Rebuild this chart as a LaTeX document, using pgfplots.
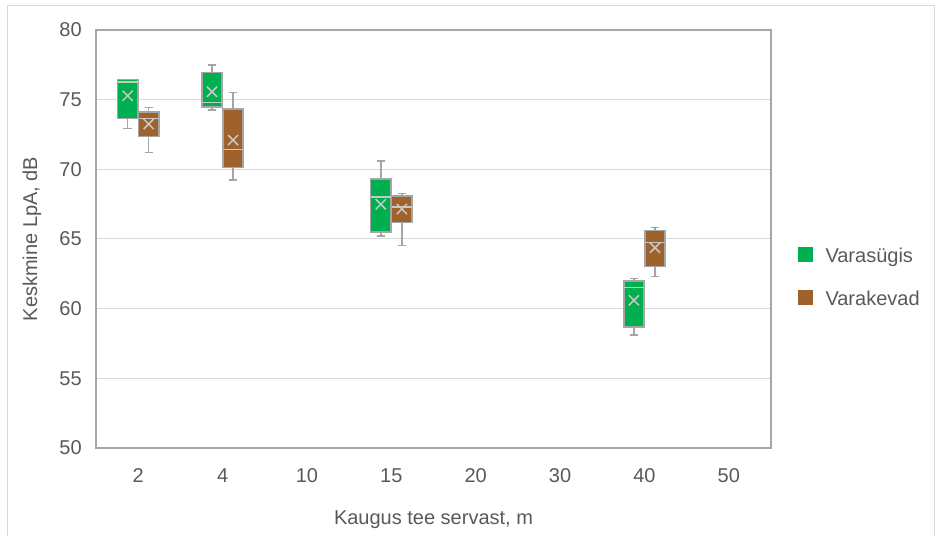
\documentclass[border=0pt]{standalone}
\usepackage{fontspec}
\setmainfont{Liberation Sans}
\usepackage{pgfplots}
\pgfplotsset{compat=1.18}
\usepgfplotslibrary{statistics}
\definecolor{vgreen}{HTML}{00B050}
\definecolor{vbrown}{HTML}{A0622D}
\definecolor{textgray}{HTML}{595959}
\definecolor{framegray}{HTML}{A6A6A6}
\definecolor{gridgray}{HTML}{D9D9D9}
\definecolor{boxgray}{HTML}{A5A5A5}
\definecolor{meangray}{HTML}{C8C8C8}
\pgfplotsset{
  gbox/.style={fill=vgreen, draw=boxgray, line width=0.9pt, solid, mark=none},
  bbox/.style={fill=vbrown, draw=boxgray, line width=0.9pt, solid, mark=none},
}
\begin{document}
\fontsize{12pt}{14pt}\selectfont
\begin{tikzpicture}
\path[use as bounding box] (0,0) rectangle (561.6pt,321.6pt);
\draw[gridgray, line width=0.6pt] (4.2pt,0) -- (4.2pt,318pt) -- (560.4pt,318pt) -- (560.4pt,0);
\begin{axis}[
  at={(57.6pt,52.8pt)}, anchor=south west,
  scale only axis, width=405pt, height=250.8pt,
  xmin=-0.5, xmax=7.5, ymin=50, ymax=80,
  clip=false,
  xtick={0,1,2,3,4,5,6,7},
  xticklabels={2,4,10,15,20,30,40,50},
  ytick={50,55,60,65,70,75,80},
  major tick length=0pt,
  ymajorgrids, grid style={gridgray, line width=0.6pt},
  axis line style={framegray, line width=0.9pt},
  /pgf/number format/assume math mode=true,
  tick label style={font=\fontsize{12pt}{14pt}\selectfont, text=textgray},
  yticklabel style={anchor=east, inner sep=0pt, xshift=-8.4pt},
  xticklabel style={anchor=center, inner sep=0pt, yshift=-16.8pt},
  xlabel={Kaugus tee servast, m},
  ylabel={Keskmine LpA, dB},
  label style={font=\fontsize{12pt}{14pt}\selectfont, text=textgray},
  xlabel style={at={(axis description cs:0.5,0)}, anchor=base, yshift=-45.6pt},
  ylabel style={at={(axis description cs:-0.0874,0.5)}, anchor=base},
  boxplot/draw direction=y,
  boxplot/box extend=0.24,
  boxplot/whisker extend=0.1,
  boxplot/every median/.style={draw=meangray, line width=0.9pt},
]
% Varasugis (green)
\addplot+[gbox, boxplot prepared={draw position=-0.125,
  lower whisker=72.94, lower quartile=73.66, median=76.25, upper quartile=76.46, upper whisker=76.46}] coordinates {};
\addplot+[gbox, boxplot prepared={draw position=0.875,
  lower whisker=74.26, lower quartile=74.47, median=74.81, upper quartile=76.94, upper whisker=77.49}] coordinates {};
\addplot+[gbox, boxplot prepared={draw position=2.875,
  lower whisker=65.23, lower quartile=65.50, median=68.01, upper quartile=69.30, upper whisker=70.60}] coordinates {};
\addplot+[gbox, boxplot prepared={draw position=5.875,
  lower whisker=58.10, lower quartile=58.70, median=61.53, upper quartile=61.98, upper whisker=62.17}] coordinates {};

% Varakevad (brown)
\addplot+[bbox, boxplot prepared={draw position=0.125,
  lower whisker=71.22, lower quartile=72.37, median=73.66, upper quartile=74.11, upper whisker=74.45}] coordinates {};
\addplot+[bbox, boxplot prepared={draw position=1.125,
  lower whisker=69.23, lower quartile=70.14, median=71.44, upper quartile=74.33, upper whisker=75.53}] coordinates {};
\addplot+[bbox, boxplot prepared={draw position=3.125,
  lower whisker=64.52, lower quartile=66.20, median=67.30, upper quartile=68.08, upper whisker=68.28}] coordinates {};
\addplot+[bbox, boxplot prepared={draw position=6.125,
  lower whisker=62.32, lower quartile=63.01, median=64.76, upper quartile=65.60, upper whisker=65.84}] coordinates {};

% means
\addplot[only marks, mark=x, mark size=4.3pt, mark options={draw=meangray, line width=0.9pt}]
  coordinates {(-0.125,75.28) (0.875,75.57) (2.875,67.49) (5.875,60.60)};
\addplot[only marks, mark=x, mark size=4.3pt, mark options={draw=meangray, line width=0.9pt}]
  coordinates {(0.125,73.25) (1.125,72.10) (3.125,67.15) (6.125,64.37)};

% legend
\fill[vgreen] ([xshift=16.2pt,yshift=8.5pt]axis description cs:1,0.41) rectangle ++(9pt,9pt);
\node[anchor=base west, inner sep=0pt, text=textgray] at ([xshift=32.5pt,yshift=8.7pt]axis description cs:1,0.41) {Varasügis};
\fill[vbrown] ([xshift=16.2pt,yshift=-17.3pt]axis description cs:1,0.41) rectangle ++(9pt,9pt);
\node[anchor=base west, inner sep=0pt, text=textgray] at ([xshift=32.5pt,yshift=-17.1pt]axis description cs:1,0.41) {Varakevad};
\end{axis}
\end{tikzpicture}
\end{document}
